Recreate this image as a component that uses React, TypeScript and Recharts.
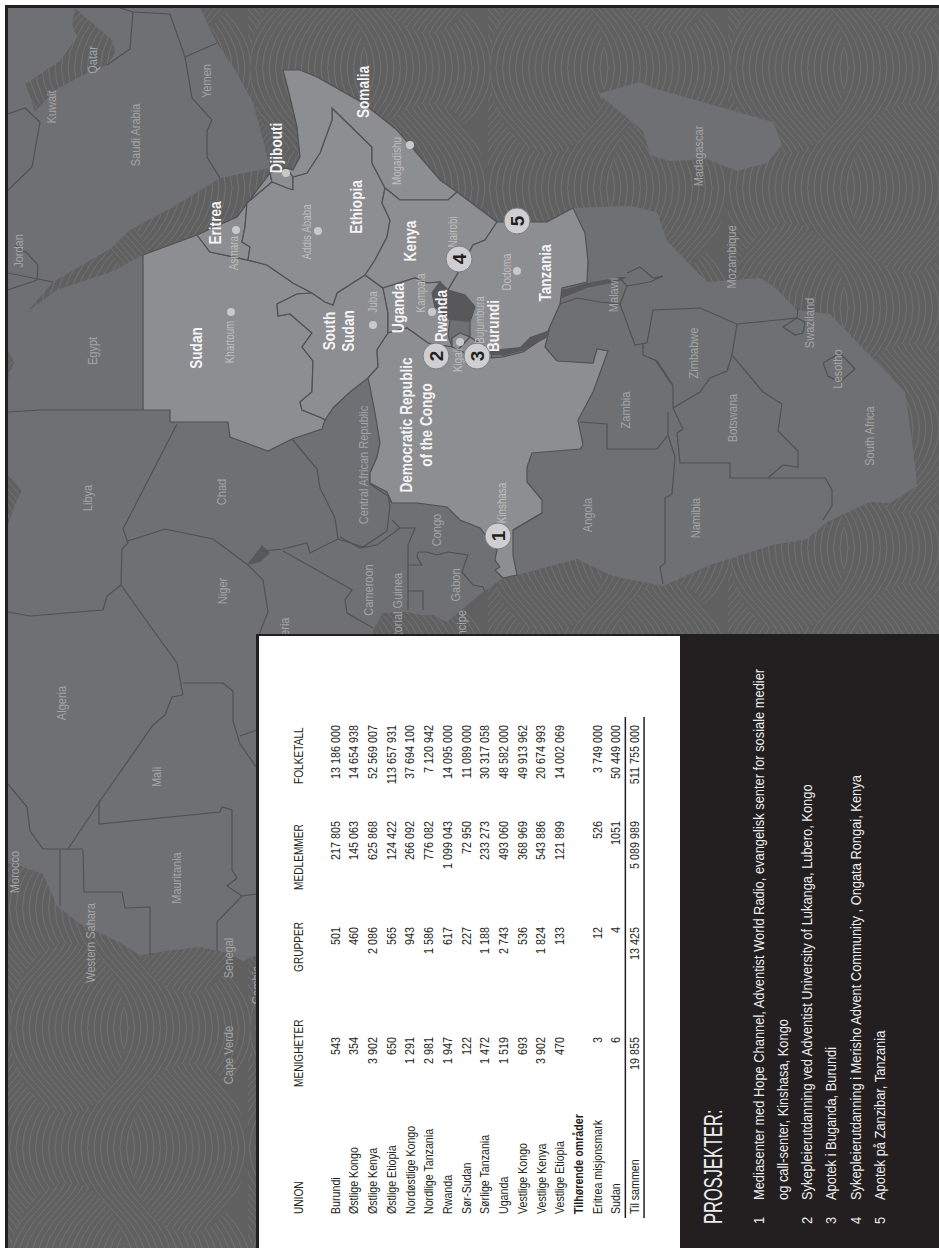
import React from "react";
import { ScatterChart, Scatter, XAxis, YAxis, ReferenceLine } from "recharts";

type Pt = [number, number];

const FONT = '"Liberation Sans Narrow", "Liberation Sans", sans-serif';

// map outlines, in map units of the page
const frame: Pt[] = [[0, 0], [939, 0], [939, 1248], [0, 1248]];
const arabia: Pt[] = [[0, 0], [200, 0], [200, 8], [217, 43], [237, 73], [253, 103], [263, 140], [270, 168], [220, 178], [173, 207], [130, 230], [110, 249], [53, 282], [27, 312], [0, 320]];
const africa: Pt[] = [[0, 312], [27, 312], [57, 290], [113, 271], [143, 255], [197, 235], [237, 217], [270, 173], [287, 168], [293, 170], [300, 157], [297, 127], [290, 97], [283, 70], [300, 70], [317, 77], [363, 103], [397, 130], [440, 180], [457, 192], [497, 222], [517, 222], [547, 222], [573, 208], [630, 206], [657, 212], [667, 241], [707, 282], [760, 278], [773, 286], [797, 310], [830, 314], [905, 392], [913, 449], [917, 486], [890, 503], [870, 502], [827, 522], [807, 539], [773, 545], [710, 565], [663, 586], [613, 576], [577, 559], [517, 575], [503, 578], [483, 592], [447, 622], [433, 615], [420, 615], [407, 612], [383, 613], [373, 628], [373, 640], [258, 700], [257, 955], [243, 961], [227, 953], [200, 947], [167, 951], [140, 955], [117, 941], [80, 924], [57, 906], [43, 874], [17, 865], [0, 862]];
const madagascar: Pt[] = [[598, 94], [640, 82], [653, 88], [773, 122], [782, 145], [767, 163], [737, 171], [707, 159], [670, 161], [650, 155], [643, 131], [613, 106]];

const gulf: Pt[] = [[75, 8], [113, 41], [115, 53], [107, 65], [87, 73], [55, 90], [35, 112], [25, 84], [60, 61], [77, 37], [72, 24]];
const medEast: Pt[] = [[0, 345], [8, 350], [14, 362], [8, 378], [0, 382]];
const medSyrte: Pt[] = [[0, 475], [10, 477], [22, 490], [15, 505], [8, 525], [0, 530]];
const victoria: Pt[] = [[432, 293], [440, 282], [448, 290], [465, 295], [475, 307], [470, 322], [450, 320], [435, 307]];
const tanganyika: Pt[] = [[490, 350], [520, 347], [530, 337], [550, 330], [548, 337], [523, 350], [503, 355], [492, 355]];
const malawiLake: Pt[] = [[562, 290], [587, 283], [620, 277], [627, 277], [620, 281], [587, 288], [562, 298]];
const chadLake: Pt[] = [[247, 565], [262, 545], [270, 553], [260, 562]];
const kariba: Pt[] = [[655, 361], [658, 362], [673, 384], [670, 383]];

const sudan: Pt[] = [[143, 255], [197, 235], [210, 252], [247, 260], [267, 265], [293, 283], [312, 293], [297, 294], [277, 304], [278, 316], [290, 314], [312, 333], [302, 347], [313, 361], [312, 392], [300, 402], [302, 410], [322, 418], [325, 420], [322, 429], [292, 439], [268, 451], [230, 437], [228, 422], [170, 422], [170, 410], [143, 410]];
const southSudan: Pt[] = [[312, 293], [325, 302], [333, 305], [337, 293], [365, 275], [383, 288], [388, 313], [388, 333], [377, 350], [378, 367], [368, 378], [350, 392], [333, 408], [325, 420], [322, 418], [302, 410], [300, 402], [312, 392], [313, 361], [302, 347], [312, 333], [290, 314], [278, 316], [277, 304], [297, 294]];
const eritrea: Pt[] = [[197, 235], [237, 217], [270, 173], [272, 182], [247, 203], [245, 227], [242, 242], [250, 247], [248, 260], [210, 252]];
const djibouti: Pt[] = [[270, 173], [287, 168], [293, 177], [293, 190], [287, 188], [272, 182]];
const ethiopia: Pt[] = [[272, 182], [287, 188], [293, 190], [293, 177], [307, 173], [320, 153], [332, 120], [332, 108], [372, 147], [372, 163], [385, 188], [382, 203], [390, 220], [387, 237], [375, 260], [365, 275], [337, 293], [333, 305], [325, 302], [312, 293], [293, 283], [267, 265], [248, 260], [250, 247], [242, 242], [245, 227], [247, 203]];
const somalia: Pt[] = [[287, 168], [293, 170], [300, 157], [297, 127], [290, 97], [283, 70], [300, 70], [317, 77], [363, 103], [397, 130], [440, 180], [457, 192], [448, 200], [400, 200], [385, 188], [372, 163], [372, 147], [332, 108], [332, 120], [320, 153], [307, 173], [293, 177]];
const kenya: Pt[] = [[385, 188], [400, 200], [448, 200], [457, 192], [497, 222], [485, 240], [473, 245], [458, 273], [448, 290], [440, 282], [427, 283], [415, 278], [383, 288], [365, 275], [375, 260], [387, 237], [390, 220], [382, 203]];
const uganda: Pt[] = [[383, 288], [415, 278], [427, 283], [440, 282], [432, 293], [435, 307], [450, 320], [448, 335], [452, 347], [428, 343], [407, 328], [388, 333], [388, 313]];
const rwanda: Pt[] = [[452, 338], [460, 333], [470, 337], [458, 350], [452, 347]];
const burundi: Pt[] = [[470, 337], [490, 350], [492, 358], [470, 355], [458, 350]];
const tanzania: Pt[] = [[497, 222], [517, 222], [547, 222], [573, 208], [585, 233], [588, 261], [587, 282], [562, 288], [560, 304], [548, 331], [523, 350], [503, 355], [490, 350], [470, 337], [470, 322], [475, 307], [465, 295], [448, 290], [458, 273], [473, 245], [485, 240]];
const drCongo: Pt[] = [[368, 378], [370, 387], [375, 413], [380, 443], [377, 457], [370, 473], [370, 483], [387, 492], [392, 503], [417, 503], [447, 507], [460, 520], [480, 528], [497, 550], [495, 560], [500, 567], [495, 570], [503, 578], [517, 575], [513, 555], [513, 530], [542, 513], [542, 500], [527, 482], [527, 467], [532, 453], [580, 449], [583, 445], [578, 420], [593, 392], [608, 351], [597, 349], [593, 363], [557, 361], [545, 347], [548, 335], [523, 352], [503, 357], [492, 358], [470, 355], [458, 350], [452, 347], [428, 343], [407, 328], [388, 333], [377, 350], [378, 367]];

const borders: Pt[][] = [
  [[8, 273], [53, 282]], [[8, 290], [37, 280]], [[15, 245], [27, 253], [38, 265], [37, 280]],
  [[8, 190], [32, 167], [40, 122], [25, 108], [8, 114]],
  [[133, 12], [130, 49], [107, 65]], [[120, 8], [133, 12], [170, 14], [185, 57], [217, 43]],
  [[185, 57], [192, 98], [212, 120], [207, 131], [207, 157], [220, 178]],
  [[143, 410], [40, 410], [8, 412]],
  [[177, 424], [123, 529], [128, 543], [122, 549], [121, 585], [107, 596], [103, 610], [30, 616], [8, 612]],
  [[121, 585], [153, 630], [177, 663], [183, 695]],
  [[183, 683], [223, 683], [233, 691], [233, 721], [240, 744], [257, 768]], [[240, 736], [257, 730]],
  [[183, 695], [172, 697], [165, 715], [153, 725], [100, 801], [68, 849]],
  [[8, 784], [27, 807], [30, 831], [43, 849], [83, 849]],
  [[60, 850], [60, 906]], [[83, 850], [84, 892], [122, 892], [125, 908], [150, 907], [150, 955]],
  [[99, 801], [99, 824], [220, 812], [222, 807], [232, 810], [232, 870], [237, 878], [227, 886], [242, 896], [217, 922], [217, 951]],
  [[242, 896], [257, 894]],
  [[128, 541], [165, 529], [213, 539], [248, 565], [263, 580], [268, 612], [258, 637]],
  [[292, 439], [317, 469], [320, 488], [335, 518], [338, 539], [310, 553], [307, 543], [283, 549], [263, 551]],
  [[370, 484], [388, 496], [390, 506], [387, 531], [363, 547], [338, 539]],
  [[283, 551], [340, 583], [352, 590], [345, 600], [347, 613], [373, 628]],
  [[392, 520], [400, 528], [377, 545], [360, 548], [340, 537]],
  [[400, 528], [415, 528], [408, 545], [408, 610]],
  [[408, 565], [422, 565], [417, 557], [418, 552], [427, 552], [437, 555], [448, 552], [468, 555], [465, 563], [462, 572], [473, 585], [483, 587], [485, 592]],
  [[408, 591], [423, 591], [423, 610]],
  [[513, 530], [542, 513]], [[580, 422], [607, 424], [607, 449], [657, 449], [668, 435], [668, 412]],
  [[675, 457], [672, 494], [665, 498], [665, 563], [660, 567], [663, 584]], [[668, 435], [675, 457]],
  [[560, 304], [577, 298], [600, 302], [620, 304], [635, 345], [647, 343]],
  [[620, 278], [627, 286], [620, 304]], [[627, 273], [640, 267], [653, 278], [663, 276], [650, 282], [627, 286]],
  [[643, 343], [643, 355], [657, 361], [673, 386], [673, 408]],
  [[673, 408], [683, 429], [677, 433], [680, 463], [730, 463], [730, 478], [825, 478], [832, 490], [832, 506], [823, 520]],
  [[673, 408], [700, 392], [710, 378], [727, 371], [732, 355], [763, 392], [782, 404], [778, 431], [798, 451], [798, 467], [783, 465], [768, 478]],
  [[647, 343], [653, 310], [700, 308], [737, 324], [732, 355]],
  [[737, 324], [797, 318], [798, 308]],
  [[797, 318], [805, 322], [803, 333], [795, 335], [783, 327], [797, 318]],
  [[823, 363], [840, 353], [855, 369], [840, 382], [828, 376], [823, 363]],
];

const strongLabels = [
  { name: "Somalia", x: 364, y: 92 }, { name: "Ethiopia", x: 357, y: 207 }, { name: "Djibouti", x: 277, y: 148 },
  { name: "Eritrea", x: 216, y: 223 }, { name: "Kenya", x: 411, y: 241 }, { name: "Uganda", x: 399, y: 308 },
  { name: "Rwanda", x: 442, y: 316 }, { name: "Burundi", x: 494, y: 326 }, { name: "Tanzania", x: 546, y: 273 },
  { name: "Democratic Republic", x: 407, y: 425 }, { name: "of the Congo", x: 427, y: 425 }, { name: "Sudan", x: 197, y: 348 },
  { name: "South", x: 330, y: 331 }, { name: "Sudan", x: 349, y: 331 },
];
const cityLabels = [
  { name: "Asmara", x: 234, y: 253 }, { name: "Addis Ababa", x: 307, y: 232 }, { name: "Mogadishu", x: 397, y: 161 },
  { name: "Khartoum", x: 230, y: 342 }, { name: "Juba", x: 373, y: 302 }, { name: "Kampala", x: 421, y: 293 }, { name: "Kigali", x: 458, y: 360 },
  { name: "Nairobi", x: 453, y: 232 }, { name: "Dodoma", x: 507, y: 272 }, { name: "Bujumbura", x: 480, y: 320 }, { name: "Kinshasa", x: 502, y: 503 },
];
const softLabels = [
  { name: "Kuwait", x: 52, y: 107 }, { name: "Qatar", x: 93, y: 60 }, { name: "Saudi Arabia", x: 136, y: 135 }, { name: "Yemen", x: 207, y: 81 },
  { name: "Jordan", x: 19, y: 251 }, { name: "Egypt", x: 93, y: 351 }, { name: "Libya", x: 88, y: 498 }, { name: "Chad", x: 222, y: 492 },
  { name: "Niger", x: 223, y: 591 }, { name: "Central African Republic", x: 364, y: 465 }, { name: "Cameroon", x: 369, y: 590 },
  { name: "Equatorial Guinea", x: 398, y: 617 }, { name: "Nigeria", x: 285, y: 635 }, { name: "Gabon", x: 456, y: 585 }, { name: "Congo", x: 437, y: 530 },
  { name: "Sao Tome and Principe", x: 462, y: 667 }, { name: "Angola", x: 588, y: 515 },
  { name: "Madagascar", x: 699, y: 156 }, { name: "Mozambique", x: 732, y: 257 }, { name: "Malawi", x: 614, y: 295 }, { name: "Zambia", x: 626, y: 410 },
  { name: "Zimbabwe", x: 694, y: 353 }, { name: "Swaziland", x: 810, y: 323 }, { name: "Lesotho", x: 838, y: 369 }, { name: "Botswana", x: 733, y: 418 },
  { name: "South Africa", x: 870, y: 436 }, { name: "Namibia", x: 696, y: 518 }, { name: "Algeria", x: 62, y: 703 }, { name: "Mali", x: 157, y: 777 },
  { name: "Mauritania", x: 177, y: 878 }, { name: "Morocco", x: 15, y: 872 }, { name: "Western Sahara", x: 91, y: 943 }, { name: "Senegal", x: 229, y: 958 },
  { name: "Cape Verde", x: 229, y: 1055 }, { name: "Gambia", x: 257, y: 985 },
];
const capitals = [
  { x: 231, y: 312 }, { x: 236, y: 230 }, { x: 318, y: 231 }, { x: 410, y: 145 }, { x: 286, y: 173 },
  { x: 373, y: 325 }, { x: 432, y: 312 }, { x: 460, y: 342 }, { x: 517, y: 271 },
];
const projectSites = [
  { id: 1, x: 498, y: 536 }, { id: 2, x: 436, y: 356 }, { id: 3, x: 477, y: 356 }, { id: 4, x: 459, y: 259 }, { id: 5, x: 517, y: 221 },
];

// table
const unions = ["Burundi", "Østlige Kongo", "Østlige Kenya", "Østlige Etiopia", "Nordøstlige Kongo", "Nordlige Tanzania", "Rwanda", "Sør-Sudan", "Sørlige Tanzania", "Uganda", "Vestlige Kongo", "Vestlige Kenya", "Vestlige Etiopia", "Tilhørende områder", "Eritrea misjonsmark", "Sudan", "Til sammen"];
const menigheter = ["543", "354", "3 902", "650", "1 291", "2 981", "1 947", "122", "1 472", "1 519", "693", "3 902", "470", "", "3", "6", "19 855"];
const grupper = ["501", "460", "2 086", "565", "943", "1 586", "617", "227", "1 188", "2 743", "536", "1 824", "133", "", "12", "4", "13 425"];
const medlemmer = ["217 805", "145 063", "625 868", "124 422", "266 092", "776 082", "1 099 043", "72 950", "233 273", "493 060", "368 969", "543 886", "121 899", "", "526", "1051", "5 089 989"];
const folketall = ["13 186 000", "14 654 938", "52 569 007", "113 657 931", "37 694 100", "7 120 942", "14 095 000", "11 089 000", "30 317 058", "48 582 000", "49 913 962", "20 674 993", "14 002 069", "", "3 749 000", "50 449 000", "511 755 000"];
const headers = ["UNION", "MENIGHETER", "GRUPPER", "MEDLEMMER", "FOLKETALL"];
const headerStarts = [1214, 1087, 972, 890, 784];
const columnEnds = [1037, 927, 821, 725];
const HEADER_ROW = -2;

const projectTitle = "PROSJEKTER:";
const projectNumbers = ["1", "", "2", "3", "4", "5"];
const projectLines = [
  "Mediasenter med Hope Channel, Adventist World Radio, evangelisk senter for sosiale medier",
  "og call-senter, Kinshasa, Kongo",
  "Sykepleierutdanning ved Adventist University of Lukanga, Lubero, Kongo",
  "Apotek i  Buganda, Burundi",
  "Sykepleierutdanning i Merisho Advent Community , Ongata Rongai, Kenya",
  "Apotek på Zanzibar, Tanzania",
];

const asPoints = (pts: Pt[]) => pts.map(([x, y]) => ({ x, y }));
const closed = (pts: Pt[]) => asPoints([...pts, pts[0]]);
const noMark = () => null;

// all type on the page runs bottom to top; sx narrows it to the condensed look
const rotated = (p: any, text: string, sx: number, style: any) => (
  <text
    transform={`translate(${p.cx} ${p.cy}) rotate(-90) scale(${sx} 1)`}
    dominantBaseline="central"
    fontFamily={FONT}
    {...style}
  >
    {text}
  </text>
);

const Region = (pts: Pt[], fill: string, key: string, stroke = "#505153") => (
  <Scatter
    key={key}
    data={closed(pts)}
    shape={noMark}
    line={{ fill, stroke, strokeWidth: 1.2 }}
    isAnimationActive={false}
  />
);

// ocean texture only
const offsets = Array.from({ length: 40 }, (_, i) => i * 6.5 - 40);
const Waves = () => (
  <defs>
    <clipPath id="lens">
      <ellipse cx="60" cy="60" rx="58" ry="85" />
      <ellipse cx="180" cy="180" rx="58" ry="85" />
      <ellipse cx="180" cy="-60" rx="58" ry="85" />
      <ellipse cx="60" cy="300" rx="58" ry="85" />
    </clipPath>
    <pattern id="waves" width="240" height="240" patternUnits="userSpaceOnUse">
      <rect width="240" height="240" fill="#606061" />
      {offsets.map((x) => (
        <path key={x} d={`M${x} 0q60 60 0 120t0 120`} fill="none" stroke="#717172" strokeWidth="1" />
      ))}
      <g clipPath="url(#lens)">
        <rect width="240" height="240" fill="#606061" />
        {offsets.map((x) => (
          <path key={x} d={`M${x} 0q-60 60 0 120t0 120`} fill="none" stroke="#717172" strokeWidth="1" />
        ))}
      </g>
    </pattern>
  </defs>
);

function MapChart() {
  return (
    <ScatterChart width={931} height={1240} margin={{ top: 0, right: 0, bottom: 0, left: 0 }}>
      <Waves />
      <XAxis type="number" dataKey="x" domain={[8, 939]} allowDataOverflow hide />
      <YAxis type="number" dataKey="y" domain={[8, 1248]} allowDataOverflow reversed hide />
      {Region(frame, "url(#waves)", "ocean", "none")}
      {Region(arabia, "#6f7073", "arabia", "none")}
      {Region(africa, "#6f7073", "africa", "none")}
      {Region(madagascar, "#6f7073", "madagascar", "none")}
      {Region(gulf, "url(#waves)", "gulf", "none")}
      {Region(medEast, "url(#waves)", "medEast", "none")}
      {Region(medSyrte, "url(#waves)", "medSyrte", "none")}
      {Region(sudan, "#8d8e91", "sudan")}
      {Region(southSudan, "#8d8e91", "southSudan")}
      {Region(eritrea, "#8d8e91", "eritrea")}
      {Region(djibouti, "#8d8e91", "djibouti")}
      {Region(ethiopia, "#8d8e91", "ethiopia")}
      {Region(somalia, "#8d8e91", "somalia")}
      {Region(kenya, "#8d8e91", "kenya")}
      {Region(uganda, "#8d8e91", "uganda")}
      {Region(rwanda, "#8d8e91", "rwanda")}
      {Region(burundi, "#8d8e91", "burundi")}
      {Region(tanzania, "#8d8e91", "tanzania")}
      {Region(drCongo, "#8d8e91", "drCongo")}
      {Region(victoria, "#58585a", "victoria", "none")}
      {Region(tanganyika, "#58585a", "tanganyika", "none")}
      {Region(malawiLake, "#58585a", "malawiLake", "none")}
      {Region(chadLake, "#58585a", "chadLake", "none")}
      {Region(kariba, "#58585a", "kariba", "none")}
      {borders.map((b, i) => (
        <Scatter
          key={i}
          data={asPoints(b)}
          shape={noMark}
          line={{ stroke: "#505153", strokeWidth: 1.2, fill: "none" }}
          isAnimationActive={false}
        />
      ))}
      <Scatter
        data={capitals}
        isAnimationActive={false}
        shape={(p: any) => <circle cx={p.cx} cy={p.cy} r={4} fill="#c9c9cb" />}
      />
      <Scatter
        data={softLabels}
        isAnimationActive={false}
        shape={(p: any) => rotated(p, p.payload.name, 0.85, { fontSize: 13, fill: "#a3a4a6", textAnchor: "middle" })}
      />
      <Scatter
        data={cityLabels}
        isAnimationActive={false}
        shape={(p: any) => rotated(p, p.payload.name, 0.82, { fontSize: 12, fill: "#bebec0", textAnchor: "middle" })}
      />
      <Scatter
        data={strongLabels}
        isAnimationActive={false}
        shape={(p: any) =>
          rotated(p, p.payload.name, 0.85, { fontSize: 16, fontWeight: 700, fill: "#f4f4f4", textAnchor: "middle" })
        }
      />
      <Scatter
        data={projectSites}
        isAnimationActive={false}
        shape={(p: any) => (
          <g>
            <circle cx={p.cx} cy={p.cy} r={13} fill="#cfcfd1" stroke="#7d7d80" strokeWidth={1} />
            {rotated(p, String(p.payload.id), 1, { fontSize: 19, fontWeight: 700, fill: "#231f20", textAnchor: "middle" })}
          </g>
        )}
      />
    </ScatterChart>
  );
}

function TableChart() {
  const columns = [menigheter, grupper, medlemmer, folketall];
  const rowData = unions.map((name, row) => ({ x: row, y: headerStarts[0], name }));
  const headerData = headers.map((name, i) => ({ x: HEADER_ROW, y: headerStarts[i], name }));
  return (
    <ScatterChart width={422} height={612} margin={{ top: 0, right: 0, bottom: 0, left: 0 }}>
      <XAxis type="number" dataKey="x" domain={[-4.13, 18.42]} allowDataOverflow hide />
      <YAxis type="number" dataKey="y" domain={[636, 1248]} allowDataOverflow reversed hide />
      <ReferenceLine segment={[{ x: 15.5, y: 717 }, { x: 15.5, y: 1218 }]} stroke="#231f20" strokeWidth={1.5} />
      <ReferenceLine segment={[{ x: 16.5, y: 717 }, { x: 16.5, y: 1218 }]} stroke="#231f20" strokeWidth={1.5} />
      <Scatter
        data={headerData}
        isAnimationActive={false}
        shape={(p: any) => rotated(p, p.payload.name, 0.78, { fontSize: 13, fill: "#231f20", textAnchor: "start" })}
      />
      <Scatter
        data={rowData}
        isAnimationActive={false}
        shape={(p: any) =>
          rotated(p, p.payload.name, 0.82, {
            fontSize: 13,
            fill: "#231f20",
            textAnchor: "start",
            fontWeight: p.payload.name === "Tilhørende områder" ? 700 : 400,
          })
        }
      />
      {columns.map((col, c) => (
        <Scatter
          key={c}
          data={col.map((value, row) => ({ x: row, y: columnEnds[c], value }))}
          isAnimationActive={false}
          shape={(p: any) => rotated(p, p.payload.value, 0.83, { fontSize: 13, fill: "#231f20", textAnchor: "end" })}
        />
      ))}
    </ScatterChart>
  );
}

function ProjectChart() {
  const numberData = projectNumbers.map((value, row) => ({ x: row, y: 1224, value }));
  const lineData = projectLines.map((value, row) => ({ x: row, y: 1200, value }));
  return (
    <ScatterChart width={259} height={612} margin={{ top: 0, right: 0, bottom: 0, left: 0 }}>
      <XAxis type="number" dataKey="x" domain={[-3.27, 7.43]} allowDataOverflow hide />
      <YAxis type="number" dataKey="y" domain={[636, 1248]} allowDataOverflow reversed hide />
      <Scatter
        data={[{ x: -1.9, y: 1224, value: projectTitle }]}
        isAnimationActive={false}
        shape={(p: any) => rotated(p, p.payload.value, 0.66, { fontSize: 25, fill: "#ececec", textAnchor: "start" })}
      />
      <Scatter
        data={numberData}
        isAnimationActive={false}
        shape={(p: any) => rotated(p, p.payload.value, 0.92, { fontSize: 14, fill: "#ececec", textAnchor: "start" })}
      />
      <Scatter
        data={lineData}
        isAnimationActive={false}
        shape={(p: any) => rotated(p, p.payload.value, 0.92, { fontSize: 14, fill: "#ececec", textAnchor: "start" })}
      />
    </ScatterChart>
  );
}

export default function App() {
  return (
    <div style={{ position: "absolute", left: 0, top: 0, width: 939, height: 1248, overflow: "hidden", background: "#fff" }}>
      <div style={{ position: "absolute", left: 5, top: 5, width: 934, height: 1243, background: "#231f20" }} />
      <div style={{ position: "absolute", left: 8, top: 8 }}>
        <MapChart />
      </div>
      <div style={{ position: "absolute", left: 258, top: 636, width: 422, height: 612, background: "#fff" }}>
        <TableChart />
      </div>
      <div style={{ position: "absolute", left: 256, top: 636, width: 3, height: 612, background: "#231f20" }} />
      <div style={{ position: "absolute", left: 256, top: 634, width: 683, height: 2, background: "#231f20" }} />
      <div style={{ position: "absolute", left: 680, top: 636, width: 259, height: 612, background: "#231f20" }}>
        <ProjectChart />
      </div>
    </div>
  );
}
